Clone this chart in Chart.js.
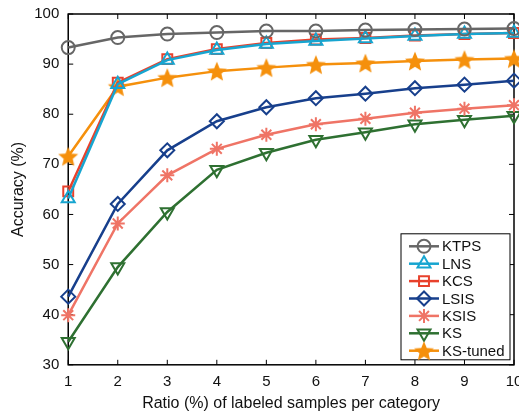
<!DOCTYPE html>
<html>
<head>
<meta charset="utf-8">
<script src="https://cdn.jsdelivr.net/npm/chart.js@4/dist/chart.umd.min.js"></script>
<style>
  html, body { margin: 0; padding: 0; background: #fff; overflow: hidden; }
  #wrap { width: 526px; height: 416px; }
</style>
</head>
<body>
<div id="wrap"><canvas id="accChart"></canvas></div>
<script>
// ratio of labeled samples per category (%)
var ratios = [1, 2, 3, 4, 5, 6, 7, 8, 9, 10];

var ktps    = [93.3, 95.3, 96.0, 96.3, 96.6, 96.6, 96.8, 96.9, 97.0, 97.1];
var lns     = [63.2, 86.0, 90.8, 92.8, 94.0, 94.6, 95.1, 95.6, 96.0, 96.2];
var kcs     = [64.6, 86.3, 91.0, 93.0, 94.2, 94.9, 95.2, 95.7, 96.0, 96.2];
var lsis    = [43.6, 62.1, 72.8, 78.6, 81.4, 83.2, 84.1, 85.2, 85.9, 86.7];
var ksis    = [39.9, 58.2, 67.8, 73.1, 75.9, 78.0, 79.1, 80.3, 81.1, 81.8];
var ks      = [34.6, 49.5, 60.5, 68.9, 72.3, 74.9, 76.4, 78.0, 78.9, 79.7];
var ksTuned = [71.6, 85.5, 87.3, 88.6, 89.3, 89.9, 90.2, 90.6, 90.9, 91.1];

var yTicks = [30, 40, 50, 60, 70, 80, 90, 100];

var FONT = '"Liberation Sans", Arial, sans-serif';

// filled five point star for KS-tuned
function makeStar(color, size) {
  var c = document.createElement('canvas');
  c.width = size; c.height = size;
  var g = c.getContext('2d');
  var cx = size / 2, cy = size / 2 + 1, R = size / 2 - 0.5, r = R * 0.45;
  g.beginPath();
  for (var i = 0; i < 10; i++) {
    var rad = (i % 2 === 0) ? R : r;
    var a = -Math.PI / 2 + i * Math.PI / 5;
    var px = cx + rad * Math.cos(a), py = cy + rad * Math.sin(a);
    if (i === 0) g.moveTo(px, py); else g.lineTo(px, py);
  }
  g.closePath();
  g.fillStyle = color;
  g.fill();
  return c;
}
var starImg = makeStar('#f5900c', 22);

function pts(vals) {
  return vals.map(function (v, i) { return { x: ratios[i], y: v }; });
}

function series(label, vals, color, style, radius, rotation) {
  return {
    label: label,
    data: pts(vals),
    borderColor: color,
    backgroundColor: color,
    pointBorderColor: color,
    pointBackgroundColor: 'rgba(0,0,0,0)',
    pointStyle: style,
    pointRadius: radius,
    pointRotation: rotation || 0,
    pointBorderWidth: 2,
    borderWidth: 2.5,
    tension: 0,
    clip: false
  };
}

var datasets = [
  series('KTPS', ktps, '#666666', 'circle', 6.5),
  series('LNS', lns, '#17a5d0', 'triangle', 7.5),
  series('KCS', kcs, '#e8412c', 'rect', 7),
  series('LSIS', lsis, '#173f8c', 'rectRot', 7),
  series('KSIS', ksis, '#ef7466', 'star', 7),
  series('KS', ks, '#2e7031', 'triangle', 7.5, 180),
  series('KS-tuned', ksTuned, '#f5900c', starImg, 10)
];

var frameAndLegend = {
  id: 'frameAndLegend',
  beforeDatasetsDraw: function (chart) {
    var ctx = chart.ctx, a = chart.chartArea;
    var xs = chart.scales.x, ys = chart.scales.y;
    ctx.save();
    ctx.strokeStyle = '#000';
    ctx.lineWidth = 1.5;
    ctx.strokeRect(a.left, a.top, a.right - a.left, a.bottom - a.top);
    ctx.lineWidth = 1;
    ctx.beginPath();
    ratios.forEach(function (v) {
      var px = xs.getPixelForValue(v);
      ctx.moveTo(px, a.bottom); ctx.lineTo(px, a.bottom - 5);
      ctx.moveTo(px, a.top); ctx.lineTo(px, a.top + 5);
    });
    yTicks.forEach(function (v) {
      var py = ys.getPixelForValue(v);
      ctx.moveTo(a.left, py); ctx.lineTo(a.left + 5, py);
      ctx.moveTo(a.right, py); ctx.lineTo(a.right - 5, py);
    });
    ctx.stroke();
    ctx.restore();
  },
  afterDraw: function (chart) {
    var ctx = chart.ctx, a = chart.chartArea;
    var boxW = 109, rowH = 17.4, boxH = 126;
    var bx = a.right - 4 - boxW, by = a.bottom - 5 - boxH;
    ctx.save();
    ctx.fillStyle = '#fff';
    ctx.fillRect(bx, by, boxW, boxH);
    ctx.strokeStyle = '#000';
    ctx.lineWidth = 1;
    ctx.strokeRect(bx, by, boxW, boxH);
    ctx.font = '15px ' + FONT;
    ctx.textBaseline = 'middle';
    chart.data.datasets.forEach(function (ds, i) {
      var cy = by + 12.5 + i * rowH;
      var x0 = bx + 8, x1 = bx + 38;
      ctx.strokeStyle = ds.borderColor;
      ctx.lineWidth = 2.5;
      ctx.beginPath();
      ctx.moveTo(x0, cy); ctx.lineTo(x1, cy);
      ctx.stroke();
      ctx.lineWidth = ds.pointBorderWidth;
      ctx.fillStyle = ds.pointBackgroundColor;
      Chart.helpers.drawPoint(ctx, {
        pointStyle: ds.pointStyle,
        radius: ds.pointRadius,
        rotation: ds.pointRotation,
        borderWidth: ds.pointBorderWidth
      }, (x0 + x1) / 2, cy);
      ctx.fillStyle = '#111';
      ctx.fillText(ds.label, x1 + 3, cy + 1);
    });
    ctx.restore();
  }
};

new Chart('accChart', {
  type: 'line',
  data: { datasets: datasets },
  plugins: [frameAndLegend],
  options: {
    responsive: true,
    maintainAspectRatio: false,
    animation: false,
    layout: { padding: { top: 14, left: 9, right: 0, bottom: 3 } },
    plugins: {
      legend: { display: false },
      tooltip: { enabled: false }
    },
    scales: {
      x: {
        type: 'linear',
        min: 1, max: 10,
        grid: { display: false },
        border: { display: false },
        ticks: {
          stepSize: 1,
          color: '#111',
          padding: 0,
          font: { family: FONT, size: 15 }
        },
        title: {
          display: true,
          text: 'Ratio (%) of labeled samples per category',
          color: '#111',
          padding: { top: 3, bottom: 0 },
          font: { family: FONT, size: 16 }
        }
      },
      y: {
        min: 30, max: 100,
        grid: { display: false },
        border: { display: false },
        ticks: {
          stepSize: 10,
          color: '#111',
          padding: 1,
          font: { family: FONT, size: 15 }
        },
        title: {
          display: true,
          text: 'Accuracy (%)',
          color: '#111',
          padding: { top: 0, bottom: 5 },
          font: { family: FONT, size: 16 }
        }
      }
    }
  }
});
</script>
</body>
</html>
